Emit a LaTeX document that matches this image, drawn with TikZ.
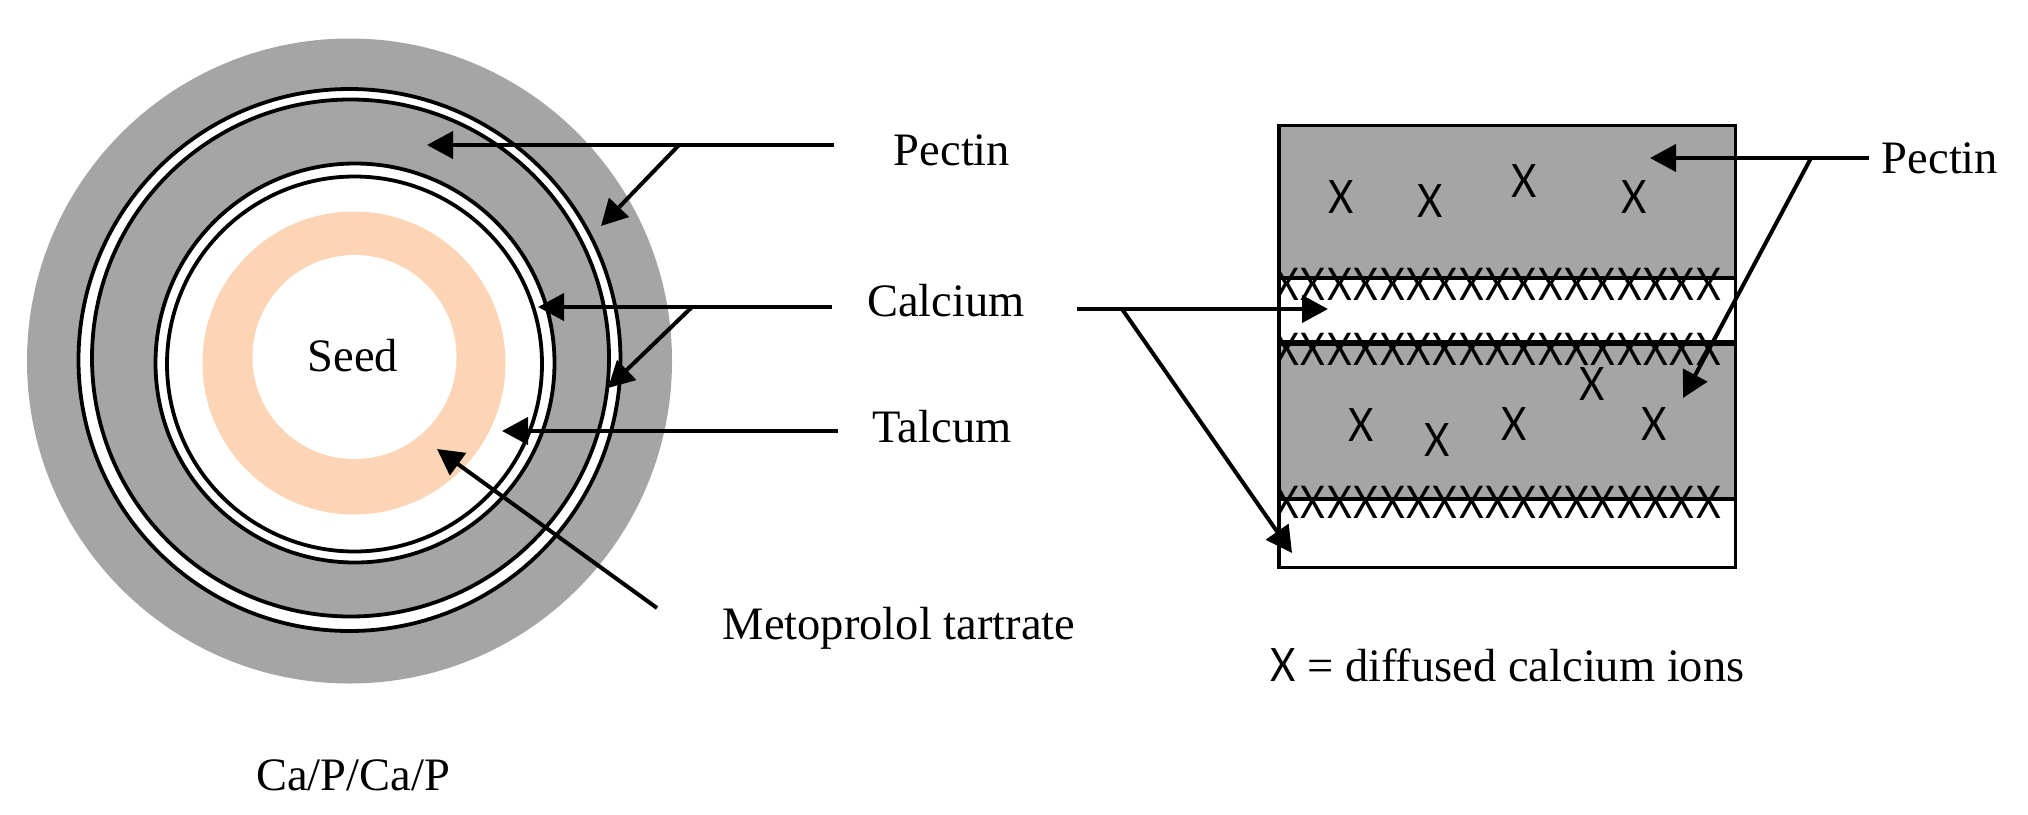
\documentclass[tikz,border=0pt]{standalone}
\usepackage{fontspec}
\setmainfont{Liberation Serif}
\newfontfamily\xfont{Lato}
\usetikzlibrary{arrows.meta}
\definecolor{pectingray}{HTML}{A5A5A5}
\definecolor{drugpeach}{HTML}{FBD5B5}
\newcommand{\xmark}{\scalebox{0.85}[1]{\xfont X}}
\tikzset{
  x=1pt,y=-1pt,
  label text/.style={inner sep=0pt,font=\fontsize{46.5}{50}\selectfont},
  big x/.style={inner sep=0pt,font=\fontsize{46}{46}\selectfont},
  small x/.style={inner sep=0pt,font=\fontsize{45}{45}\selectfont},
  lead/.style={line width=4pt,-{Triangle[length=26pt,width=27pt]}},
  ringline/.style={draw=black,line width=3.8pt},
}
\begin{document}
\begin{tikzpicture}
\useasboundingbox (0,0) rectangle (2028,814);
% circular bead
\fill[pectingray] (349.5,361) circle[radius=322.5];
\filldraw[fill=white,ringline] (349.5,360) circle[radius=271];
\filldraw[fill=pectingray,ringline] (350.5,358) circle[radius=258.5];
\filldraw[fill=white,ringline] (355,363) circle[radius=199.5];
\filldraw[fill=white,ringline] (354.5,364) circle[radius=187.5];
\fill[drugpeach] (354,363) circle[radius=151.5];
\fill[white] (354.5,357) circle[radius=102];
% layered section
\fill[pectingray] (1279,125.5) rectangle (1735.5,278);
\fill[pectingray] (1279,343) rectangle (1735.5,499);
\begin{scope}
\clip (1279,125.5) rectangle (1735.5,567.5);
\foreach \i in {0,...,16}{
  \node[small x] at (1287+26.35*\i,284) {\xmark};
  \node[small x] at (1287+26.35*\i,349) {\xmark};
  \node[small x] at (1287+26.35*\i,502) {\xmark};
}
\end{scope}
\draw[line width=4.5pt] (1279,278) -- (1735.5,278);
\draw[line width=6pt] (1279,343) -- (1735.5,343);
\draw[line width=4pt] (1279,499) -- (1735.5,499);
\draw[line width=3.6pt] (1279,125.5) rectangle (1735.5,567.5);
\foreach \p in {(1341,197),(1430,201),(1524,181),(1634,197),(1361,425),(1437,440),(1514,424),(1592,384),(1654,424)}{
  \node[big x] at \p {\xmark};
}
% labels
\node[label text] (pectinL) at (952,150) {Pectin};
\node[label text] (calciumL) at (946,301) {Calcium};
\node[label text] (talcumL) at (942,427) {Talcum};
\node[label text] (metoL) at (899,628) {Metoprolol tartrate};
\node[label text] (seedL) at (353,356) {Seed};
\node[label text] (capL) at (353,775) {Ca/P/Ca/P};
\node[label text] (pectinR) at (1940,158) {Pectin};
\node[label text,anchor=base west] (keyL) at (1270,681) {{\fontsize{46}{46}\selectfont\xmark} = diffused calcium ions};
% connector coordinates
\coordinate (p0) at (834,145);
\coordinate (pb) at (679,145);
\coordinate (pt1) at (427,145);
\coordinate (pt2) at (601,226);
\coordinate (c0) at (832,307);
\coordinate (cb) at (692,307);
\coordinate (ct1) at (538,307);
\coordinate (ct2) at (608,388);
\coordinate (t0) at (838,431);
\coordinate (tt) at (502,431);
\coordinate (m0) at (657,608);
\coordinate (mt) at (437,449);
\coordinate (rc0) at (1077,309);
\coordinate (rcb) at (1122,309);
\coordinate (rct1) at (1328,309);
\coordinate (rct2) at (1292,553);
\coordinate (rp0) at (1869,158);
\coordinate (rpb) at (1811,158);
\coordinate (rpt1) at (1650,158);
\coordinate (rpt2) at (1683,398);
\draw[lead] (p0) -- (pt1);
\draw[lead] (pb) -- (pt2);
\draw[lead] (c0) -- (ct1);
\draw[lead] (cb) -- (ct2);
\draw[lead] (t0) -- (tt);
\draw[lead] (m0) -- (mt);
\draw[lead] (rc0) -- (rct1);
\draw[lead] (rcb) -- (rct2);
\draw[lead] (rp0) -- (rpt1);
\draw[lead] (rpb) -- (rpt2);
\end{tikzpicture}
\end{document}
